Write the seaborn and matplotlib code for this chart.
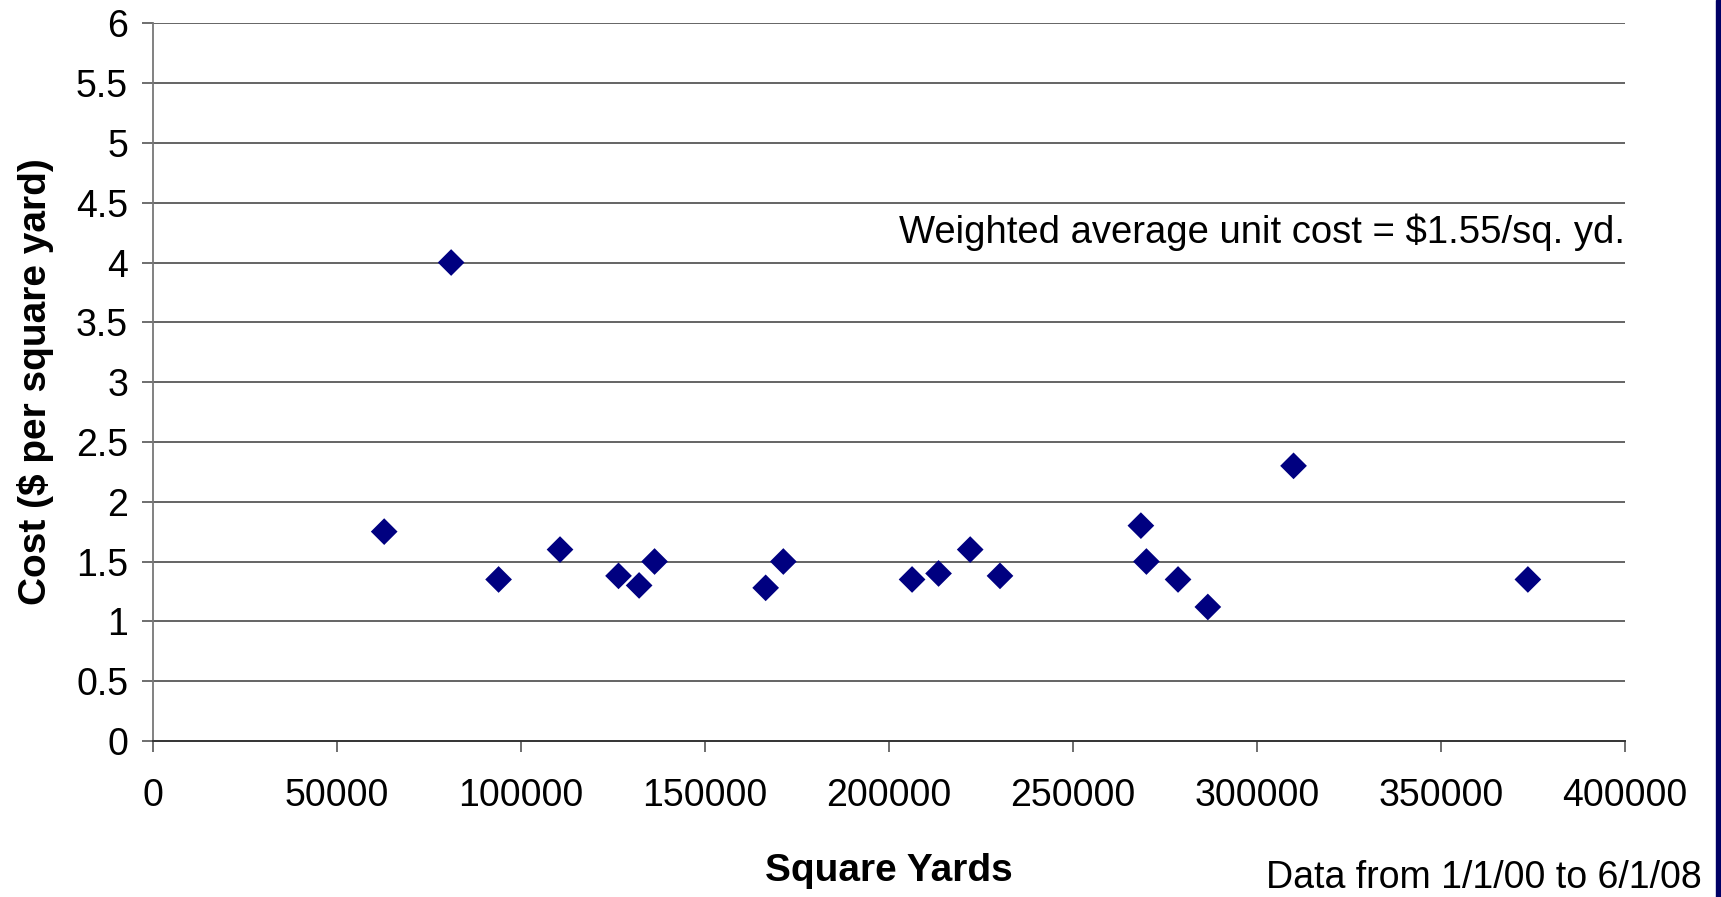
import matplotlib
matplotlib.use("Agg")
import matplotlib.pyplot as plt
import seaborn as sns
import pandas as pd

square_yards = [62800, 81000, 93900, 110600, 126500, 132100, 136300, 166500, 171300,
                206300, 213500, 222100, 230200, 268500, 270000, 278600, 286700, 310000, 373700]
cost = [1.75, 4.0, 1.35, 1.6, 1.38, 1.30, 1.50, 1.28, 1.50,
        1.35, 1.40, 1.60, 1.38, 1.80, 1.50, 1.35, 1.12, 2.30, 1.35]
x_ticks = [0, 50000, 100000, 150000, 200000, 250000, 300000, 350000, 400000]
y_ticks = [0, 0.5, 1, 1.5, 2, 2.5, 3, 3.5, 4, 4.5, 5, 5.5, 6]
y_tick_labels = ["0", "0.5", "1", "1.5", "2", "2.5", "3", "3.5", "4", "4.5", "5", "5.5", "6"]

df = pd.DataFrame({"Square Yards": square_yards, "Cost": cost})

sns.set_theme(style="white")
plt.rcParams["font.family"] = ["Liberation Sans", "DejaVu Sans"]
plt.rcParams["text.color"] = "black"
plt.rcParams["axes.labelcolor"] = "black"
plt.rcParams["xtick.color"] = "black"
plt.rcParams["ytick.color"] = "black"

fig = plt.figure(figsize=(17.21, 8.97), dpi=100)
ax = fig.add_axes([0.089, 0.174, 0.855, 0.8])

for yv in y_ticks[1:]:
    ax.axhline(yv, color="#4a4a4a", linewidth=1.2, zorder=1)

sns.scatterplot(data=df, x="Square Yards", y="Cost", marker="D", s=185,
                color="#000080", edgecolor="none", linewidth=0, ax=ax, zorder=3)

ax.set_xlim(0, 400000)
ax.set_ylim(0, 6)
ax.set_xticks(x_ticks)
ax.set_xticklabels([str(v) for v in x_ticks], fontsize=27)
ax.set_yticks(y_ticks)
ax.set_yticklabels(y_tick_labels, fontsize=27)
ax.tick_params(axis="both", which="both", direction="out", length=8, width=1.2,
               color="#555555", labelcolor="black", bottom=True, left=True)
ax.tick_params(axis="y", pad=10)
ax.tick_params(axis="x", pad=19)

for s in ["top", "right"]:
    ax.spines[s].set_visible(False)
ax.spines["left"].set_color("#777777")
ax.spines["left"].set_linewidth(1.3)
ax.spines["bottom"].set_color("#333333")
ax.spines["bottom"].set_linewidth(1.4)

ax.set_xlabel("Square Yards", fontsize=28, fontweight="bold", labelpad=28, color="black")
ax.set_ylabel("Cost ($ per square yard)", fontsize=28, fontweight="bold", labelpad=16,
              color="black")

ax.text(400000, 4.25, "Weighted average unit cost = $1.55/sq. yd.", fontsize=27.5,
        ha="right", va="center", color="black")

fig.text(0.989, 0.021, "Data from 1/1/00 to 6/1/08", fontsize=27, ha="right",
         va="center", color="black")

# navy bar at right edge
fig.patches.append(matplotlib.patches.Rectangle((0.997, 0), 0.003, 1,
                   transform=fig.transFigure, color="#000066", zorder=10))

fig.savefig("out.png", dpi=100)
